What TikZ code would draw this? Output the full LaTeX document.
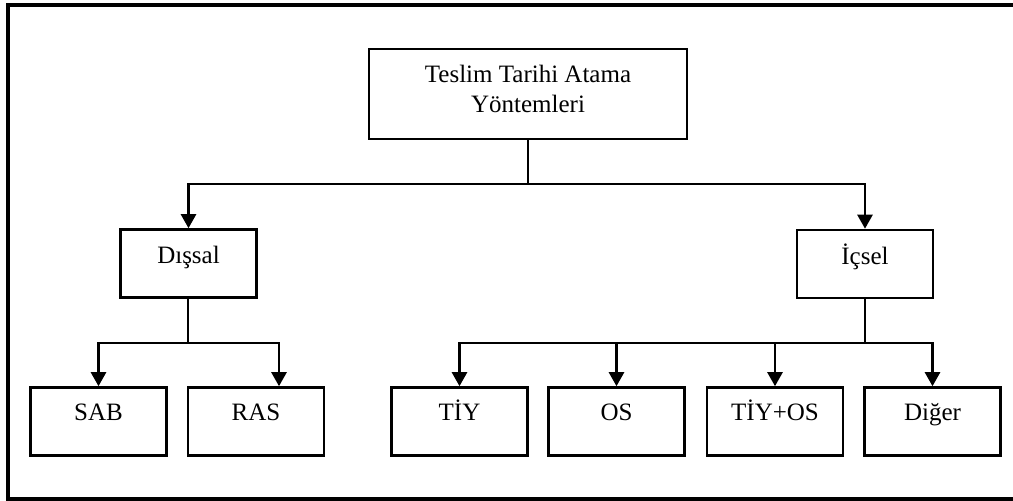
\documentclass[tikz,border=0pt]{standalone}
\usepackage{fontspec}
\setmainfont{Liberation Serif}
\usetikzlibrary{arrows.meta}

\tikzset{
  x=1pt, y=-1pt,
  txt/.style={font=\fontsize{25}{30}\selectfont},
  box/.style={draw=black, line width=2.6pt, rectangle, inner sep=0pt, txt},
  leafbox/.style={box, minimum width=136pt, minimum height=68pt,
                  text height=33pt, text depth=35pt},
  midbox/.style={box, minimum width=136pt, minimum height=68pt,
                 text height=34pt, text depth=34pt},
  link/.style={line width=2.6pt, line cap=rect},
  arrowlink/.style={line width=2.6pt, -{Triangle[length=14pt,width=15pt]}},
}

\begin{document}
\begin{tikzpicture}
  \clip (0,0) rectangle (1013,501);
  \fill[white] (0,0) rectangle (1013,501);

  % outer frame (its right side runs past the page edge)
  \draw[line width=4pt] (8,4.5) rectangle (1030,499.3);

  % root
  \node[box, minimum width=318pt, minimum height=90pt] (root) at (528,94) {};
  \node[txt, align=center, inner sep=0pt, anchor=base]
        (roottxt) at (528,112) {Teslim Tarihi Atama\\Yöntemleri};

  % second level
  \node[midbox] (dis) at (188.5,263.5) {Dışsal};
  \node[midbox] (ic)  at (865,264)     {İçsel};

  % leaves
  \node[leafbox] (sab)  at (98.5,421.5) {SAB};
  \node[leafbox] (ras)  at (256,421.5)  {RAS};
  \node[leafbox] (tiy)  at (459.5,421.5){TİY};
  \node[leafbox] (os)   at (616.5,421.5){OS};
  \node[leafbox] (tos)  at (775,421.5)  {TİY+OS};
  \node[leafbox] (dig)  at (932.5,421.5){Diğer};

  % junction points of the buses
  \coordinate (rootj) at (528,184);
  \coordinate (disj)  at (188,343);
  \coordinate (icj)   at (865,343);

  % root -> second level
  \draw[link] (root.south) -- (rootj);
  \draw[arrowlink] (rootj) -| (dis.north);
  \draw[arrowlink] (rootj) -| (ic.north);

  % Dışsal -> leaves
  \draw[link] (dis.south -| disj) -- (disj);
  \draw[arrowlink] (disj) -| (sab.north);
  \draw[arrowlink] (disj) -| ([xshift=23pt]ras.north);

  % İçsel -> leaves
  \draw[link] (ic.south) -- (icj);
  \draw[arrowlink] (icj) -| (tiy.north);
  \draw[arrowlink] (icj) -| (os.north);
  \draw[arrowlink] (icj) -| (tos.north);
  \draw[arrowlink] (icj) -| (dig.north);
\end{tikzpicture}
\end{document}
